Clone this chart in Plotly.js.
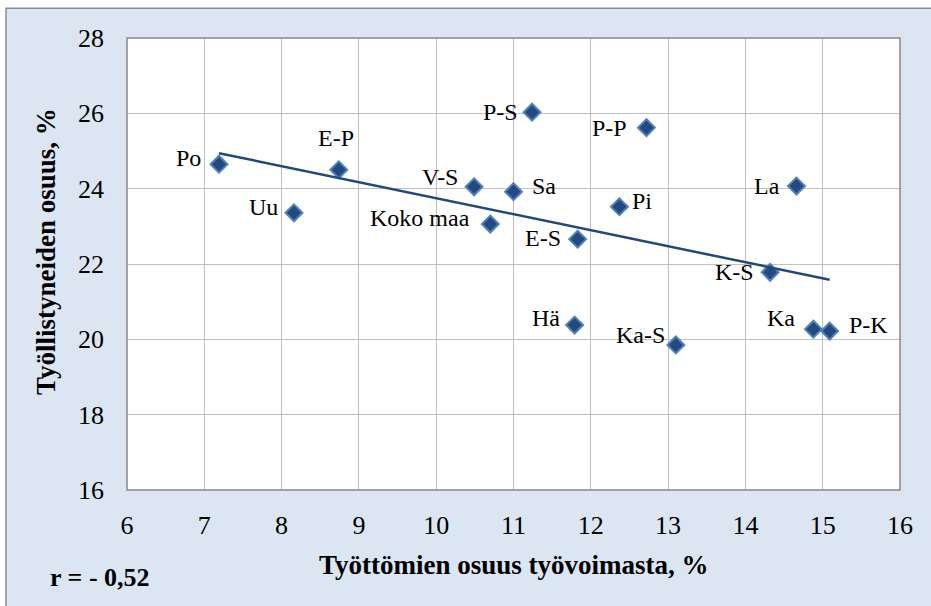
<!DOCTYPE html>
<html>
<head>
<meta charset="utf-8">
<script src="https://cdn.plot.ly/plotly-3.0.1.min.js"></script>
<style>
html,body{margin:0;padding:0;background:#fff;}
#chart{width:931px;height:606px;}
</style>
</head>
<body>
<div id="chart"></div>
<script>
// Data
const regions = ["Po","E-P","Uu","P-S","P-P","V-S","Sa","Koko maa","Pi","E-S","K-S","Ka","P-K","Ka-S","Hä","La"];
const unemploymentShare = [7.19, 8.74, 8.16, 11.24, 12.72, 10.49, 11.00, 10.70, 12.37, 11.83, 14.32, 14.88, 15.09, 13.10, 11.79, 14.66];
const employedShare = [24.65, 24.50, 23.36, 26.03, 25.62, 24.05, 23.92, 23.06, 23.52, 22.66, 21.78, 20.27, 20.22, 19.85, 20.38, 24.07];
const xTicks = [6,7,8,9,10,11,12,13,14,15,16];
const yTicks = [16,18,20,22,24,26,28];
const rText = "r = - 0,52";

// Label placement (layout only): [xanchor, xshift, yshift]
const labelPlacement = {
  "Po": ["right",-16,6], "E-P": ["center",-3,32], "Uu": ["right",-14,6],
  "P-S": ["right",-12,0], "P-P": ["right",-17,0], "V-S": ["right",-14,10],
  "Sa": ["left",16,6], "Koko maa": ["right",-18,6], "Pi": ["left",11,6],
  "E-S": ["right",-15,1], "K-S": ["right",-14,0], "Ka": ["right",-16,11],
  "P-K": ["left",17,6], "Ka-S": ["right",-9,10], "Hä": ["right",-13,7],
  "La": ["right",-14,0]
};

// Linear least-squares trend line
const n = unemploymentShare.length;
const mx = unemploymentShare.reduce((a,b)=>a+b,0)/n;
const my = employedShare.reduce((a,b)=>a+b,0)/n;
let sxy=0, sxx=0;
for (let i=0;i<n;i++){ sxy += (unemploymentShare[i]-mx)*(employedShare[i]-my); sxx += (unemploymentShare[i]-mx)**2; }
const slope = sxy/sxx, icpt = my - slope*mx;
const xmin = Math.min(...unemploymentShare), xmax = Math.max(...unemploymentShare);

const FONT = "Liberation Serif";

const traces = [
  {
    x: unemploymentShare, y: employedShare, mode: "markers", type: "scatter",
    marker: {symbol: "diamond", size: 13, color: "#23497f", line: {color: "#4f81bd", width: 2}},
    hoverinfo: "skip", showlegend: false
  },
  {
    x: [xmin, xmax], y: [icpt + slope*xmin, icpt + slope*xmax], mode: "lines", type: "scatter",
    line: {color: "#1f497d", width: 2.5}, hoverinfo: "skip", showlegend: false
  }
];

const annotations = regions.map((r,i)=>{
  const p = labelPlacement[r];
  return {x: unemploymentShare[i], y: employedShare[i], text: r, showarrow: false,
    xanchor: p[0], yanchor: "middle", xshift: p[1], yshift: p[2],
    font: {family: FONT, size: 24, color: "#000"}};
});
annotations.push(
  {xref:"paper", yref:"paper", x:-0.1048, y:0.5288, text:"<b>Työllistyneiden osuus, %</b>", textangle:-90,
   showarrow:false, xanchor:"center", yanchor:"middle", font:{family:FONT, size:27, color:"#000"}},
  {xref:"paper", yref:"paper", x:0.5006, y:-0.166, text:"<b>Työttömien osuus työvoimasta, %</b>",
   showarrow:false, xanchor:"center", yanchor:"middle", font:{family:FONT, size:27, color:"#000"}},
  {xref:"paper", yref:"paper", x:-0.1022, y:-0.1925, text:"<b>"+rText+"</b>",
   showarrow:false, xanchor:"left", yanchor:"middle", font:{family:FONT, size:26, color:"#000"}}
);

const layout = {
  width: 931, height: 606,
  margin: {l: 127, r: 31, t: 38, b: 116},
  paper_bgcolor: "#ffffff", plot_bgcolor: "rgba(0,0,0,0)",
  font: {family: FONT, size: 26, color: "#000"},
  showlegend: false,
  xaxis: {range: [6,16], tickvals: xTicks, ticktext: xTicks.map(String), showgrid: true, gridcolor: "#c0c0c0", gridwidth: 1,
          zeroline: false, showline: false, ticks: "", ticklabelstandoff: 17, fixedrange: true,
          tickfont: {family: FONT, size: 26, color: "#000"}},
  yaxis: {range: [16,28], tickvals: yTicks, ticktext: yTicks.map(String), showgrid: true, gridcolor: "#c0c0c0", gridwidth: 1,
          zeroline: false, showline: false, ticks: "", ticklabelstandoff: 22, fixedrange: true,
          tickfont: {family: FONT, size: 26, color: "#000"}},
  shapes: [
    {type:"rect", xref:"paper", yref:"paper", x0:-0.1565, x1:1.06, y0:-0.28, y1:1.066, layer:"below",
     fillcolor:"#dce6f2", line:{color:"#8c8c8c", width:1.5}},
    {type:"rect", xref:"paper", yref:"paper", x0:0, x1:1, y0:0, y1:1, layer:"below",
     fillcolor:"#ffffff", line:{width:0}},
    {type:"rect", xref:"paper", yref:"paper", x0:0, x1:1, y0:0, y1:1, layer:"above",
     fillcolor:"rgba(0,0,0,0)", line:{color:"#878787", width:1.5}}
  ],
  annotations: annotations
};

Plotly.newPlot("chart", traces, layout, {displayModeBar: false});
</script>
</body>
</html>
